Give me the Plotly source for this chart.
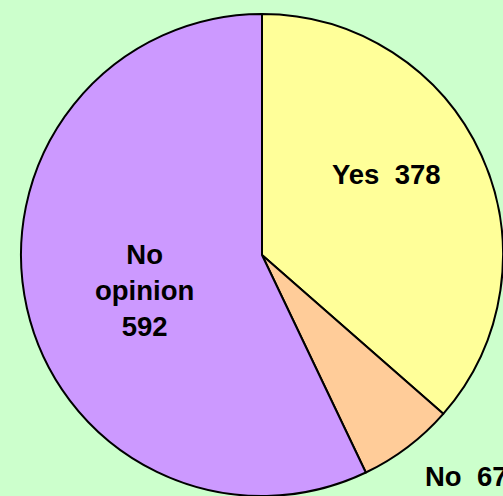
import plotly.graph_objects as go

labels = ["Yes", "No", "No opinion"]
values = [378, 67, 592]
text_labels = ["Yes\u00a0\u00a0378", "No\u00a0\u00a067", "No<br>opinion<br>592"]
colors = ["#FFFF99", "#FFCC99", "#CC99FF"]

# label centres in pixels
label_px = [(386, 175), (466, 476), (144, 290)]

W, H = 503, 496
R = 241
top = 14

fig = go.Figure(data=[go.Pie(
    labels=labels,
    values=values,
    textinfo="none",
    sort=False,
    direction="clockwise",
    rotation=0,
    marker=dict(colors=colors, line=dict(color="black", width=2)),
    domain=dict(x=[(W - 2 * R) / W, 1], y=[max(0, (H - top - 2 * R) / H), 1 - top / H]),
    showlegend=False,
    hoverinfo="label+value",
)])

for txt, (px, py) in zip(text_labels, label_px):
    fig.add_annotation(
        text=txt, x=px / W, y=1 - py / H, xref="paper", yref="paper",
        xanchor="center", yanchor="middle", showarrow=False,
        font=dict(family="Liberation Sans, Arial", size=27.5, color="black", weight="bold"),
    )

fig.update_layout(
    width=W, height=H,
    margin=dict(l=0, r=0, t=0, b=0),
    paper_bgcolor="#CCFFCC",
    plot_bgcolor="#CCFFCC",
)
fig.write_html("out.html", config={"displayModeBar": False},
               post_script="document.body.style.margin='0';")
